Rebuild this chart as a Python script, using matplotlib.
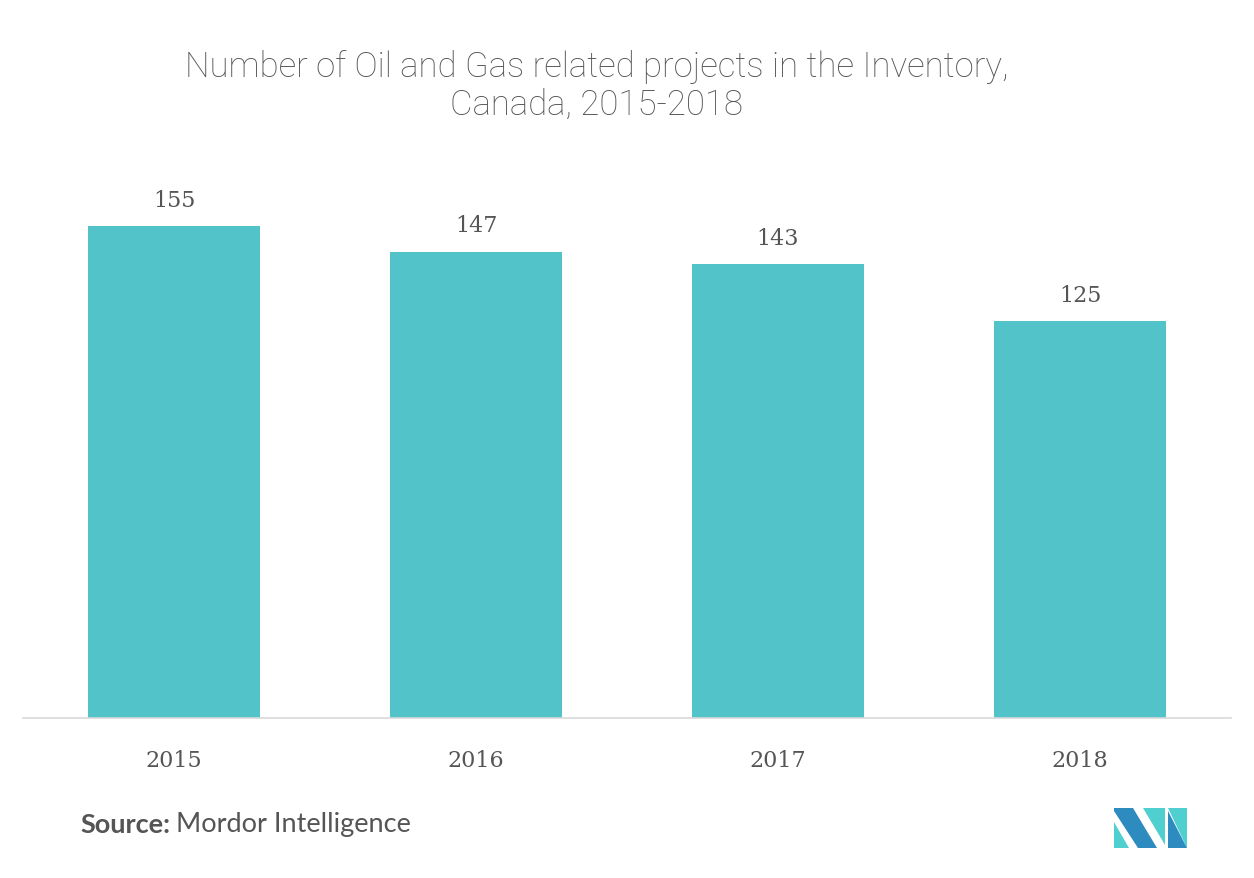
import matplotlib.pyplot as plt
from matplotlib.patches import Polygon

# data
years = ['2015', '2016', '2017', '2018']
projects = [155, 147, 143, 125]

BAR_COLOR = '#52C3C9'
TEXT_GRAY = '#555555'

W, H = 1254, 879
fig = plt.figure(figsize=(W / 100, H / 100), dpi=100)

# axes placed in pixel terms: left 23, right 1231, top 151, bottom 719
ax = fig.add_axes([23 / W, 1 - 719 / H, (1231 - 23) / W, (719 - 151) / H])
x = range(len(years))
ax.bar(x, projects, width=0.57, color=BAR_COLOR, zorder=2)
ax.set_xlim(-0.5, len(years) - 0.5)
ax.set_ylim(0, 179)

for i, v in enumerate(projects):
    ax.annotate(str(v), (i, v), xytext=(0, 11), textcoords='offset points',
                ha='center', va='bottom', fontsize=16, color=TEXT_GRAY,
                family='DejaVu Serif')

ax.set_xticks(list(x))
ax.set_xticklabels(years, fontsize=16, color=TEXT_GRAY, family='DejaVu Serif')
ax.tick_params(axis='x', length=0, pad=22)
ax.set_yticks([])
for s in ['top', 'right', 'left']:
    ax.spines[s].set_visible(False)
ax.spines['bottom'].set_color('#d9d9d9')
ax.spines['bottom'].set_linewidth(1.2)

# title
fig.text(597 / W, 1 - 86 / H,
         'Number of Oil and Gas related projects in the Inventory,\nCanada, 2015-2018',
         ha='center', va='center', fontsize=25, color=TEXT_GRAY,
         family='Roboto', fontweight='light', linespacing=1.15)

# source
src = fig.text(80 / W, 1 - 825 / H, 'Source:', ha='left', va='center',
               fontsize=19.5, color=TEXT_GRAY, family='Lato', fontweight='bold')
fig.canvas.draw()
bb = src.get_window_extent()
fig.text(bb.x1 / W + 6 / W, 1 - 825 / H, 'Mordor Intelligence', ha='left',
         va='center', fontsize=19.5, color=TEXT_GRAY, family='Lato')

# logo
def px(pts):
    return [(a / W, 1 - b / H) for a, b in pts]

dark = '#2E8BC0'
teal = '#4FCFD0'
shapes = [
    ([(1114, 823), (1114, 849), (1129, 849)], teal),
    ([(1114, 809), (1133, 809), (1157, 849), (1138, 849), (1114, 812)], dark),
    ([(1143, 809), (1165, 809), (1165, 846)], teal),
    ([(1168, 809), (1187, 809), (1187, 849)], teal),
    ([(1168, 812), (1187, 849), (1168, 849)], dark),
]
for pts, c in shapes:
    fig.patches.append(Polygon(px(pts), closed=True, transform=fig.transFigure,
                               facecolor=c, edgecolor='none'))

fig.savefig('out.png', dpi=100)
